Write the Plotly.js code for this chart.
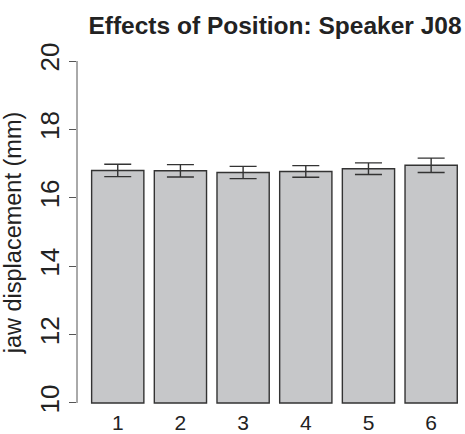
<!DOCTYPE html>
<html>
<head>
<meta charset="utf-8">
<script src="https://cdn.plot.ly/plotly-3.0.1.min.js"></script>
<style>html,body{margin:0;padding:0;background:#fff;}#chart{width:465px;height:434px;}</style>
</head>
<body>
<div id="chart"></div>
<script>
// Data
const positions = ["1", "2", "3", "4", "5", "6"];
const meanDisplacement = [16.80, 16.79, 16.74, 16.77, 16.85, 16.95];
const stdError = [0.18, 0.18, 0.18, 0.17, 0.17, 0.21];
const yTickValues = [10, 12, 14, 16, 18, 20];
const yMin = 10;
const yMax = 20;

const FONT = "Liberation Sans, Arial, Helvetica, sans-serif";
const TEXT = "#222222";

const trace = {
  type: "bar",
  x: positions,
  y: meanDisplacement.map(v => v - yMin),
  base: yMin,
  marker: { color: "#c6c7c9", line: { color: "#333333", width: 1.4 } },
  error_y: { type: "data", array: stdError, visible: true, color: "#333333", thickness: 1.4, width: 13.5 },
  hoverinfo: "skip"
};

const layout = {
  width: 465,
  height: 434,
  margin: { l: 77, r: 0, t: 61, b: 30 },
  paper_bgcolor: "#ffffff",
  plot_bgcolor: "#ffffff",
  showlegend: false,
  bargap: 1 - 1 / 1.2,
  font: { family: FONT, color: TEXT },
  title: {
    text: "<b>Effects of Position: Speaker J08</b>",
    font: { family: FONT, size: 24.5, color: TEXT },
    xref: "container", x: 275 / 465, xanchor: "center",
    yref: "container", y: 1 - 25 / 434, yanchor: "middle"
  },
  xaxis: {
    type: "category",
    range: [-0.65, 5.54],
    showline: false, showgrid: false, zeroline: false,
    ticks: "",
    ticklabelstandoff: 4,
    tickfont: { family: FONT, size: 21, color: TEXT },
    fixedrange: true
  },
  yaxis: {
    range: [yMin - 0.03, yMax],
    tickvals: yTickValues,
    ticktext: yTickValues.map(String),
    tickangle: -90,
    ticks: "outside", ticklen: 7, tickwidth: 1, tickcolor: "#555555",
    showline: false, showgrid: false, zeroline: false,
    tickfont: { family: FONT, size: 26, color: TEXT },
    title: { text: "jaw displacement (mm)", font: { family: FONT, size: 23.5, color: TEXT }, standoff: 6 },
    fixedrange: true
  },
  shapes: [{
    type: "line", xref: "paper", yref: "y",
    x0: 0, x1: 0, y0: yMin, y1: yMax,
    line: { color: "#555555", width: 1 }
  }]
};

Plotly.newPlot("chart", [trace], layout, { staticPlot: true, displayModeBar: false });
</script>
</body>
</html>
